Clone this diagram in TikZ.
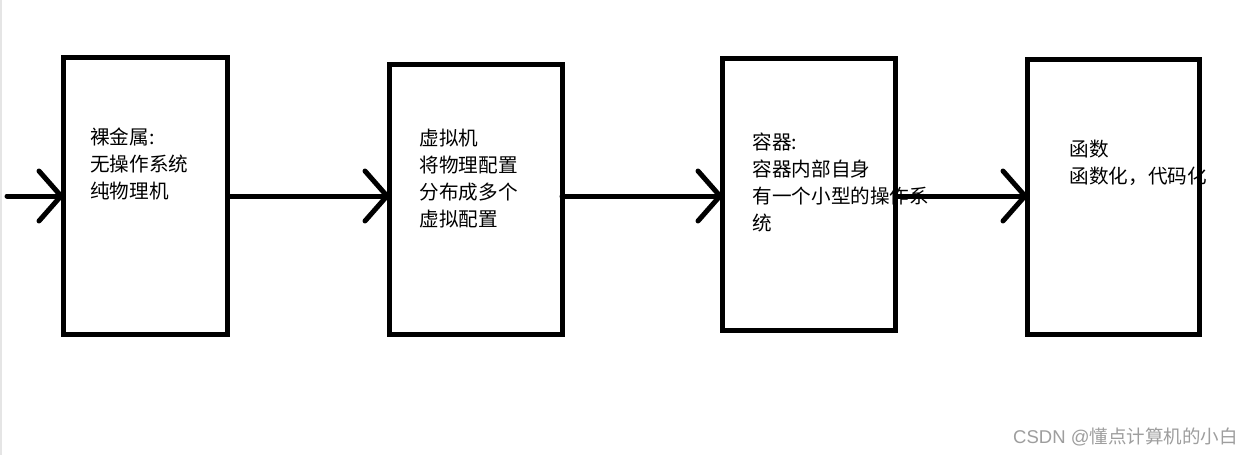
\documentclass[tikz,border=0pt]{standalone}
\usepackage{fontspec}
\newfontfamily\cjk{Noto Sans CJK SC}
\newfontfamily\arialike{Liberation Sans}
\usetikzlibrary{arrows.meta}
\tikzset{
  boxnode/.style={draw=black, line width=5pt, inner sep=0pt, outer sep=0pt, rectangle},
  boxtext/.style={anchor=north west, inner sep=0pt, align=left, font=\cjk\fontsize{19.6}{27}\selectfont, text=black},
  flow/.style={line width=5pt, line cap=round, -{Straight Barb[length=22pt,width=50pt,round]}},
  wmark/.style={anchor=base west, inner sep=0pt, font=\fontsize{18.5}{22}\selectfont, text=black!38}
}
\begin{document}
\begin{tikzpicture}[x=1pt,y=-1pt]
\useasboundingbox[fill=white] (0,0) rectangle (1257,455);
\draw[black!10, line width=1.5pt] (0.75,0) -- (0.75,455);
% texts
\node[boxtext] (t1) at (90,127.5) {裸金属:\\无操作系统\\纯物理机};
\node[boxtext] (t2) at (419.5,128.5) {虚拟机\\将物理配置\\分布成多个\\虚拟配置};
\node[boxtext] (t3) at (752.5,132.5) {容器:\\容器内部自身\\有一个小型的操作系\\统};
\node[boxtext] (t4) at (1069.5,139.5) {函数\\函数化，代码化};
% boxes
\node[boxnode, minimum width=164pt, minimum height=277pt] (b1) at (145.5,195.5) {};
\node[boxnode, minimum width=172.5pt, minimum height=270pt] (b2) at (475.75,199) {};
\node[boxnode, minimum width=173pt, minimum height=272pt] (b3) at (809,194) {};
\node[boxnode, minimum width=172pt, minimum height=275pt] (b4) at (1113.5,196.5) {};
% arrows
\coordinate (ay) at (0,196);
\coordinate (start) at (7,196);
\draw[flow] (start) -- (b1.west |- ay);
\draw[flow] (b1.east |- ay) -- (b2.west |- ay);
\draw[flow] (b2.east |- ay) -- (b3.west |- ay);
\draw[flow] (b3.east |- ay) -- (b4.west |- ay);
% watermark
\node[wmark] (wm) at (1013,443.5) {\arialike CSDN @\cjk 懂点计算机的小白};
\end{tikzpicture}
\end{document}
